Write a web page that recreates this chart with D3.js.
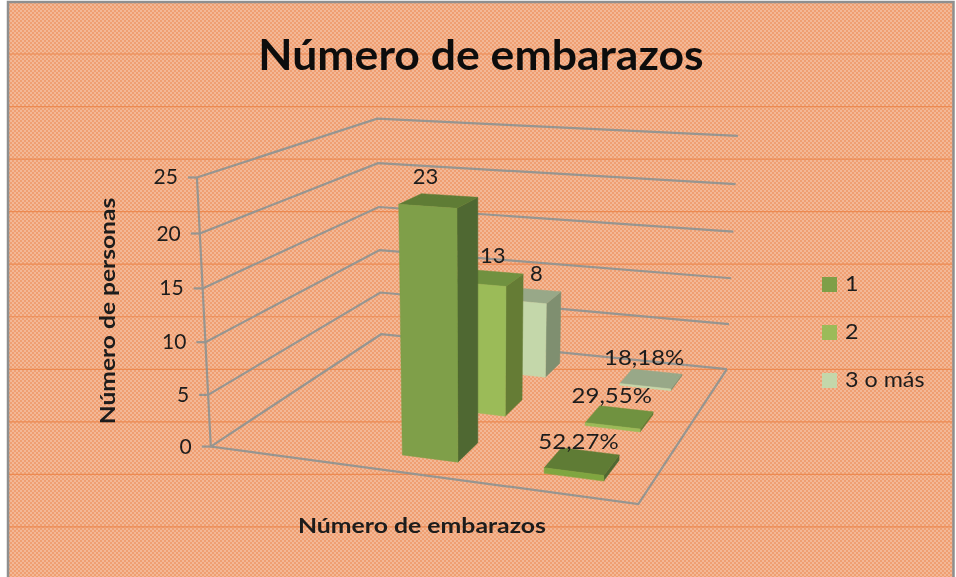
<!DOCTYPE html>
<html><head><meta charset="utf-8">
<script src="https://cdn.jsdelivr.net/npm/d3@7"></script>
<style>html,body{margin:0;padding:0;background:#fff}svg{display:block}text{font-family:Lato,"Open Sans",sans-serif;fill:#1c1c1c;filter:url(#b)}</style>
</head><body><svg id="c" width="956" height="577"></svg>
<script>
const titleText="Número de embarazos", yTitle="Número de personas", xTitle="Número de embarazos";
const categories=["","Frecuencia","Porcentaje"];
const seriesNames=["1","2","3 o más"];
const serie1=[null,23,0.5227], serie2=[null,13,0.2955], serie3=[null,8,0.1818];
const labels1=[null,"23","52,27%"], labels2=[null,"13","29,55%"], labels3=[null,"8","18,18%"];
const yTicks=[0,5,10,15,20,25];
const calib=[[0,0,0,211,447],[1,0,0,638,504],[0,1,0,381,334],[1,1,0,727,369],[0,0,1,197,177],[0,1,1,377,119],[1,1,1,738,136]];
const countDx=[4,21,23], countDy=[-10,-7,-7], pctDx=[17,12,12], pctDy=[1,-3,-4];
function solve(A,b){const n=b.length,M=A.map((r,i)=>[...r,b[i]]);for(let i=0;i<n;i++){let p=i;for(let r=i+1;r<n;r++)if(Math.abs(M[r][i])>Math.abs(M[p][i]))p=r;[M[i],M[p]]=[M[p],M[i]];for(let r=0;r<n;r++)if(r!==i){const f=M[r][i]/M[i][i];for(let c=i;c<=n;c++)M[r][c]-=f*M[i][c];}}return M.map((r,i)=>r[n]/r[i]);}
const rows=[],rhs=[];
calib.forEach(([u,v,z,x,y])=>{x/=1000;y/=1000;rows.push([u,v,z,1,0,0,0,0,-x*u,-x*v,-x*z]);rhs.push(x);rows.push([0,0,0,0,u,v,z,1,-y*u,-y*v,-y*z]);rhs.push(y);});
const N=rows[0].length,ATA=d3.range(N).map(i=>d3.range(N).map(j=>d3.sum(rows,r=>r[i]*r[j]))),ATb=d3.range(N).map(i=>d3.sum(rows,(r,k)=>r[i]*rhs[k]));
const P=solve(ATA,ATb);
const proj=(u,v,z)=>{const w=P[8]*u+P[9]*v+P[10]*z+1;return [1000*(P[0]*u+P[1]*v+P[2]*z+P[3])/w,1000*(P[4]*u+P[5]*v+P[6]*z+P[7])/w];};
const zS=d3.scaleLinear().domain([0,25]).range([0,1]);
const uS=d3.scaleBand().domain(categories).range([0,1]).paddingInner(.6).paddingOuter(.3);
const vS=d3.scaleBand().domain(seriesNames).range([0,1]).paddingInner(.6).paddingOuter(.3);
const svg=d3.select("#c"),defs=svg.append("defs");
defs.append("filter").attr("id","b").attr("x","-5%").attr("y","-5%").attr("width","110%").attr("height","110%").append("feGaussianBlur").attr("stdDeviation",.4);
const pat=defs.append("pattern").attr("id","p").attr("width",4).attr("height",4).attr("patternUnits","userSpaceOnUse");
pat.append("rect").attr("width",4).attr("height",4).attr("fill","#f3b896");
pat.append("rect").attr("width",2).attr("height",2).attr("fill","#ef9f72");
pat.append("rect").attr("x",2).attr("y",2).attr("width",2).attr("height",2).attr("fill","#ef9f72");
svg.append("rect").attr("x",8).attr("y",2).attr("width",945).attr("height",575).attr("fill","url(#p)");
d3.range(54,577,52.55).forEach(y=>svg.append("line").attr("x1",9).attr("x2",952).attr("y1",y).attr("y2",y).attr("stroke","#ec8a52").attr("stroke-width",1.2));
svg.append("path").attr("d","M8,577V2H953.5V577").attr("fill","none").attr("stroke","#8f8f8f").attr("stroke-width",2.5);
const line=d3.line();
const plot=svg.append("g").attr("filter","url(#b)");
const gc="#969590";
yTicks.forEach(t=>{const z=zS(t);plot.append("path").attr("d",line([proj(0,0,z),proj(0,1,z),proj(1,1,z)])).attr("fill","none").attr("stroke",gc).attr("stroke-width",2.2);
 const a=proj(0,0,z);plot.append("line").attr("x1",a[0]-9).attr("x2",a[0]).attr("y1",a[1]).attr("y2",a[1]).attr("stroke",gc).attr("stroke-width",2.2);
 svg.append("text").attr("x",a[0]-19).attr("y",a[1]+7).attr("text-anchor","end").attr("font-size",21).text(t);});
plot.append("path").attr("d",line([proj(0,0,zS(25)),proj(0,0,0),proj(1,0,0),proj(1,1,0)])).attr("fill","none").attr("stroke",gc).attr("stroke-width",2.2);
const cols=[{front:"#7f9f48",side:"#506830",top:"#5f7c35",pfront:"#7fa640",ptop:"#5f7c35"},{front:"#9bbb59",side:"#657c35",top:"#70913f",pfront:"#9bbb59",ptop:"#70923f"},{front:"#c4d7aa",side:"#7f8f70",top:"#98a888",pfront:"#c4d7aa",ptop:"#98a888"}];
const data=[serie1,serie2,serie3],labs=[labels1,labels2,labels3];
const stretch=(sel,f)=>sel.attr("textLength",sel.node().getComputedTextLength()*f).attr("lengthAdjust","spacingAndGlyphs");
for(let s=2;s>=0;s--){categories.forEach((c,ci)=>{const val=data[s][ci];if(val==null)return;
 const u0=uS(c),u1=u0+uS.bandwidth(),v0=vS(seriesNames[s]),v1=v0+vS.bandwidth(),z=zS(val),k=cols[s],small=val<1;
 const poly=(pts,f)=>plot.append("path").attr("d",line(pts)+"Z").attr("fill",f).attr("stroke",f).attr("stroke-width",.5);
 poly([proj(u1,v0,0),proj(u1,v1,0),proj(u1,v1,z),proj(u1,v0,z)],k.side);
 poly([proj(u0,v0,z),proj(u1,v0,z),proj(u1,v1,z),proj(u0,v1,z)],small?k.ptop:k.top);
 poly([proj(u0,v0,0),proj(u1,v0,0),proj(u1,v0,z),proj(u0,v0,z)],small?k.pfront:k.front);
 const a=proj(u0,v1,z);const t=svg.append("text").attr("x",a[0]+(small?pctDx:countDx)[s]).attr("y",a[1]+(small?pctDy:countDy)[s]).attr("text-anchor","middle").attr("font-size",22).text(labs[s][ci]);
 if(small)stretch(t,1.09);
});}
stretch(svg.append("text").attr("x",481).attr("y",70).attr("text-anchor","middle").attr("font-size",42).attr("font-weight",700).style("fill","#0c0c0c").text(titleText),1.06);
stretch(svg.append("text").attr("transform","translate(115,311) rotate(-90)").attr("text-anchor","middle").attr("font-size",21).attr("font-weight",700).text(yTitle),1.17);
stretch(svg.append("text").attr("x",422).attr("y",533).attr("text-anchor","middle").attr("font-size",20).attr("font-weight",700).text(xTitle),1.24);
const lg=d3.scalePoint().domain(seriesNames).range([284,380]);
seriesNames.forEach((n,i)=>{svg.append("rect").attr("x",822).attr("y",lg(n)-7).attr("width",15).attr("height",15).attr("fill",[cols[0].front,cols[1].front,cols[2].front][i]);
 stretch(svg.append("text").attr("x",845).attr("y",lg(n)+7).attr("font-size",22).text(n),1.06);});
</script></body></html>
